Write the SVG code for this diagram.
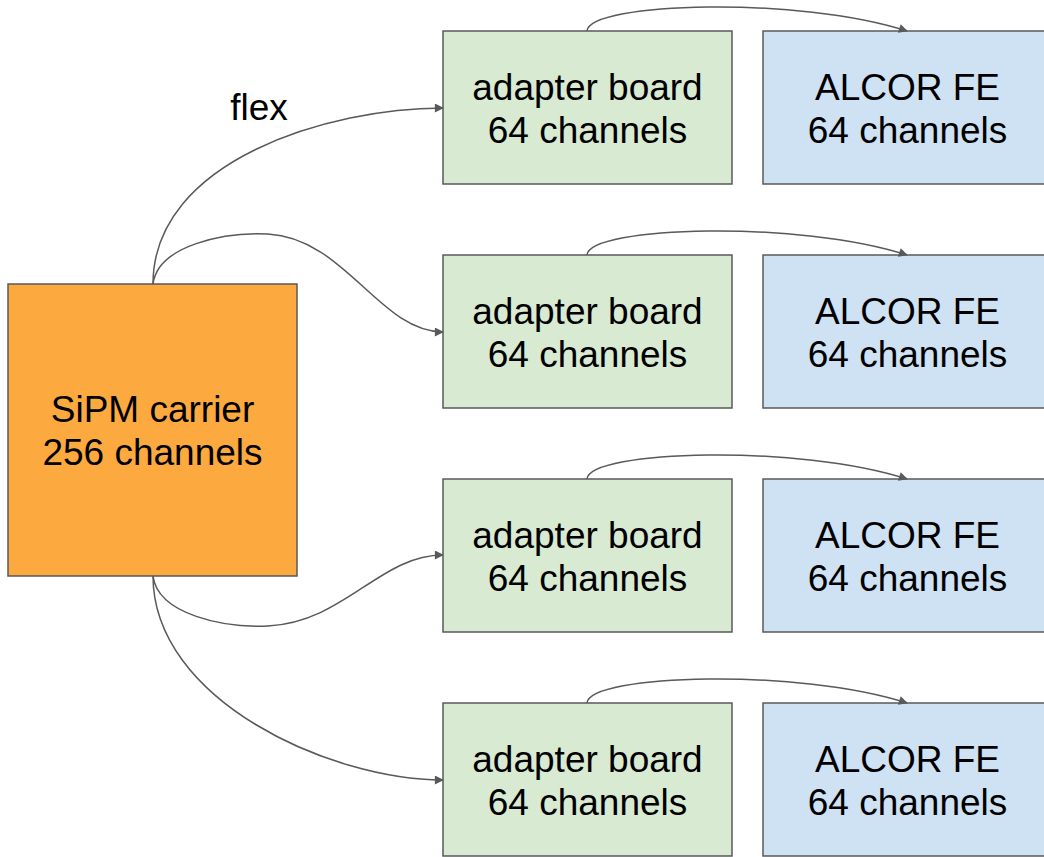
<svg xmlns="http://www.w3.org/2000/svg" width="1044" height="857" viewBox="0 0 1044 857">
<style>
.box{stroke:#595959;stroke-width:1.5}
.ad{fill:#d9ead3}
.al{fill:#cfe2f3}
.sp{fill:#fca93f}
text{font-family:"Liberation Sans",Arial,sans-serif;font-size:37px;fill:#000;text-anchor:middle}
.c{fill:none;stroke:#595959;stroke-width:1.5;marker-end:url(#ah)}
</style>
<defs>
<marker id="ah" viewBox="0 0 10 10" refX="9" refY="5" markerWidth="10" markerHeight="9" orient="auto" markerUnits="userSpaceOnUse">
<path d="M0,0 L10,5 L0,10 z" fill="#595959"/>
</marker>
</defs>
<rect width="1044" height="857" fill="#fff"/>
<g id="sipm"><rect class="box sp" x="8" y="284" width="289" height="292"/><text x="152.5" y="422">SiPM carrier</text><text x="152.5" y="465">256 channels</text></g>
<g id="adapter1"><rect class="box ad" x="443" y="31" width="289" height="153"/><text x="587.5" y="100">adapter board</text><text x="587.5" y="143">64 channels</text></g>
<g id="alcor1"><rect class="box al" x="763" y="31" width="289" height="153"/><text x="907.5" y="100">ALCOR FE</text><text x="907.5" y="143">64 channels</text></g>
<g id="adapter2"><rect class="box ad" x="443" y="255" width="289" height="153"/><text x="587.5" y="324">adapter board</text><text x="587.5" y="367">64 channels</text></g>
<g id="alcor2"><rect class="box al" x="763" y="255" width="289" height="153"/><text x="907.5" y="324">ALCOR FE</text><text x="907.5" y="367">64 channels</text></g>
<g id="adapter3"><rect class="box ad" x="443" y="479" width="289" height="153"/><text x="587.5" y="548">adapter board</text><text x="587.5" y="591">64 channels</text></g>
<g id="alcor3"><rect class="box al" x="763" y="479" width="289" height="153"/><text x="907.5" y="548">ALCOR FE</text><text x="907.5" y="591">64 channels</text></g>
<g id="adapter4"><rect class="box ad" x="443" y="703" width="289" height="153"/><text x="587.5" y="772">adapter board</text><text x="587.5" y="815">64 channels</text></g>
<g id="alcor4"><rect class="box al" x="763" y="703" width="289" height="153"/><text x="907.5" y="772">ALCOR FE</text><text x="907.5" y="815">64 channels</text></g>
<g id="connectors">
<path class="c" d="M153,284 C153,160 330,108 443,108"/>
<path class="c" d="M153,284 C158,245 225,232 268,234 C345,238 380,332 443,332"/>
<path class="c" d="M153,576 C158,615 225,628 268,626 C345,622 380,555 443,555"/>
<path class="c" d="M153,576 C153,700 330,780 443,780"/>
<path class="c" d="M587,31 C590,2 800,-4 907,31"/>
<path class="c" d="M587,255 C590,226 800,220 907,255"/>
<path class="c" d="M587,479 C590,450 800,444 907,479"/>
<path class="c" d="M587,703 C590,674 800,668 907,703"/>
<text x="259" y="120">flex</text>
</g>
</svg>
